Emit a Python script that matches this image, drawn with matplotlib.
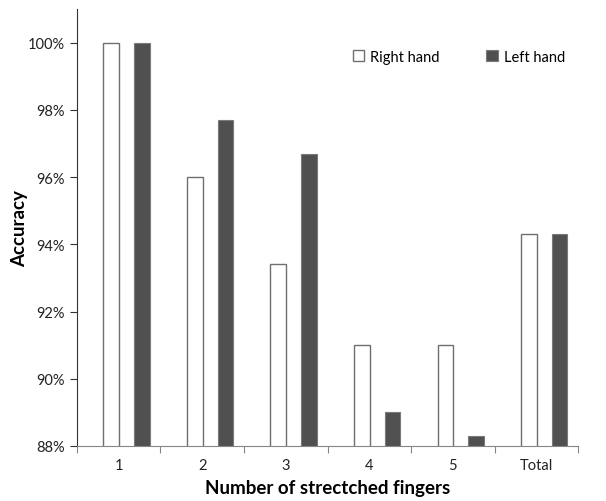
import matplotlib.pyplot as plt
import numpy as np
from matplotlib.ticker import FuncFormatter, FixedLocator

# data
categories = ["1", "2", "3", "4", "5", "Total"]
right_hand = [100.0, 96.0, 93.4, 91.0, 91.0, 94.3]
left_hand = [100.0, 97.7, 96.7, 89.0, 88.3, 94.3]

plt.rcParams['font.family'] = ['Lato', 'DejaVu Sans']

fig = plt.figure(figsize=(6.06, 5.02), dpi=100)
ax = fig.add_axes([0.127, 0.1096, 0.827, 0.8705])

x = np.arange(len(categories))
w = 0.186
ax.bar(x - 0.09, right_hand, w, color='white', edgecolor='#6f6f6f',
       linewidth=1.0, label='Right hand', zorder=2)
ax.bar(x + 0.277, left_hand, w, color='#505050', edgecolor='#7a7a7a',
       linewidth=0.8, label='Left hand', zorder=2)

ax.set_ylim(88, 101)
ax.set_xlim(-0.5, 5.5)
ax.set_yticks([88, 90, 92, 94, 96, 98, 100])
ax.yaxis.set_major_formatter(FuncFormatter(lambda v, pos: f"{v:.0f}%"))
ax.set_xticks(x)
ax.set_xticklabels(categories)
ax.xaxis.set_minor_locator(FixedLocator(np.arange(-0.5, 6, 1)))
ax.tick_params(axis='x', which='major', length=0, labelsize=10.5, pad=9, colors='#222222')
ax.tick_params(axis='x', which='minor', length=5, color='#868686', width=0.8)
ax.tick_params(axis='y', length=5, labelsize=10.5, color='#333333', width=0.8)
ax.tick_params(axis='y', labelcolor='#222222')

for s in ['top', 'right']:
    ax.spines[s].set_visible(False)
ax.spines['left'].set_color('#333333')
ax.spines['bottom'].set_color('#868686')

ax.set_xlabel('Number of strectched fingers', fontsize=13.5, fontweight='bold', labelpad=5)
ax.set_ylabel('Accuracy', fontsize=13.5, fontweight='bold', labelpad=0)

leg = ax.legend(loc='upper right', bbox_to_anchor=(1.0, 0.937), ncol=2, frameon=False,
                fontsize=10.5, handlelength=0.8, handleheight=0.8, handletextpad=0.4,
                columnspacing=3.2)

fig.savefig('out.png', dpi=100)
